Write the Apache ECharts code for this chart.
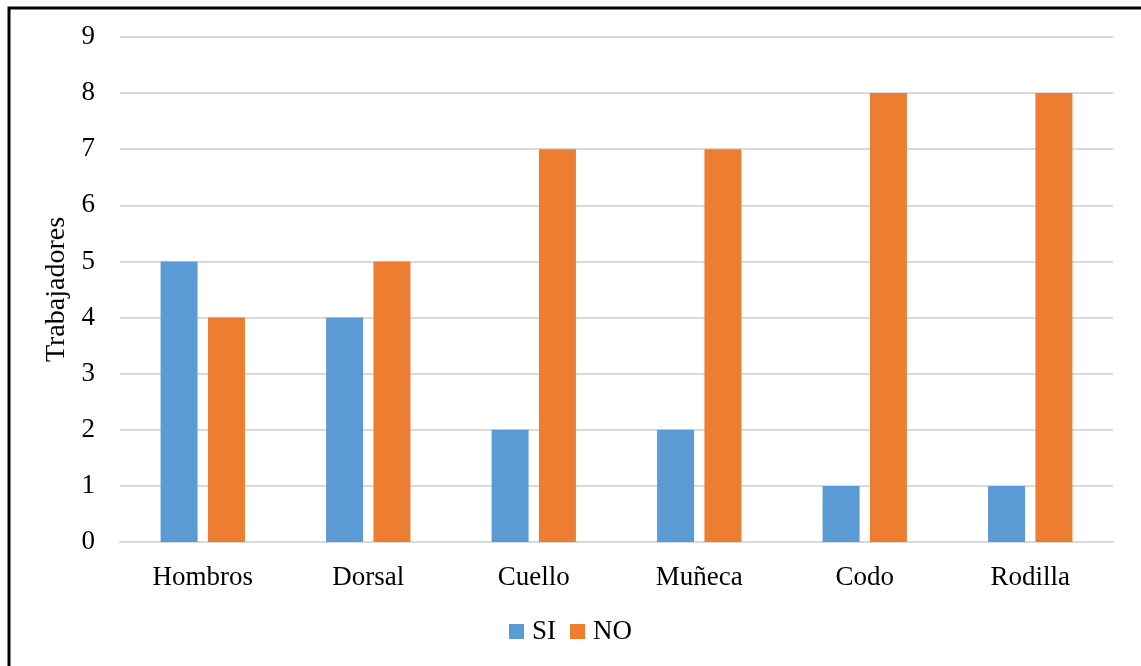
<!DOCTYPE html>
<html><head><meta charset="utf-8">
<script src="https://cdn.jsdelivr.net/npm/echarts@6/dist/echarts.min.js"></script>
<style>html,body{margin:0;padding:0;background:#fff}#c{width:1141px;height:666px}</style>
</head><body><div id="c"></div>
<script>
const categories = ['Hombros','Dorsal','Cuello','Muñeca','Codo','Rodilla'];
const siValues = [5,4,2,2,1,1];
const noValues = [4,5,7,7,8,8];
const yTicks = [0,1,2,3,4,5,6,7,8,9];
const font = '"Liberation Serif", "Times New Roman", serif';
const chart = echarts.init(document.getElementById('c'), null, {renderer:'canvas'});
chart.setOption({
  animation:false,
  backgroundColor:'#fff',
  graphic:[{type:'rect',shape:{x:9,y:8,width:1150,height:680},style:{fill:'none',stroke:'#000',lineWidth:3}}],
  grid:{left:120,right:28,top:37,bottom:124},
  legend:{bottom:16,left:'center',itemWidth:15,itemHeight:15,itemGap:14,icon:'rect',
    textStyle:{fontFamily:font,fontSize:27,color:'#000',padding:[0,0,0,3]},data:['SI','NO']},
  xAxis:{type:'category',data:categories,
    axisLine:{lineStyle:{color:'#d9d9d9',width:2}},axisTick:{show:false},
    axisLabel:{fontFamily:font,fontSize:27,color:'#000',margin:22}},
  yAxis:{type:'value',min:yTicks[0],max:yTicks[yTicks.length-1],interval:1,
    name:'Trabajadores',nameLocation:'middle',nameGap:48,nameRotate:90,
    nameTextStyle:{fontFamily:font,fontSize:28,color:'#000'},
    axisLine:{show:false},axisTick:{show:false},
    splitLine:{lineStyle:{color:'#d9d9d9',width:2}},
    axisLabel:{fontFamily:font,fontSize:27,color:'#000',margin:25}},
  series:[
    {name:'SI',type:'bar',data:siValues,barWidth:37,barGap:'28%',itemStyle:{color:'#5B9BD5'}},
    {name:'NO',type:'bar',data:noValues,barWidth:37,barGap:'28%',itemStyle:{color:'#ED7D31'}}
  ]
});
</script></body></html>
